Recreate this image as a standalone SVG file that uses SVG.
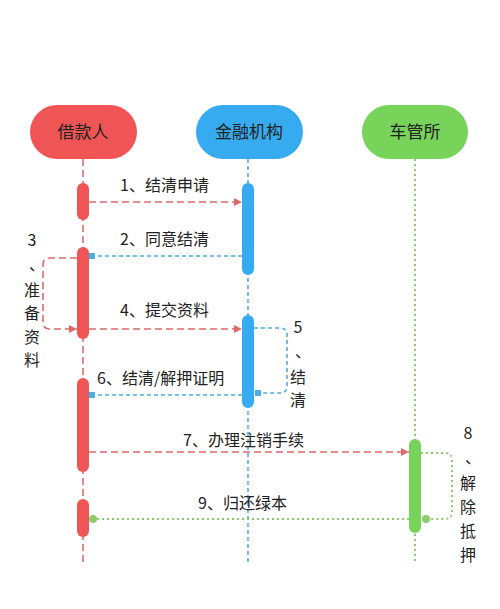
<svg xmlns="http://www.w3.org/2000/svg" width="500" height="609" viewBox="0 0 500 609">
<style>
text{font-family:"Noto Sans CJK SC","Noto Sans",sans-serif;fill:#222;}
.hd{font-size:17px;text-anchor:middle;}
.lb{font-size:16px;}
.vl{font-size:16px;text-anchor:middle;}
.red{stroke:#dc6a6a;stroke-width:1.6;fill:none;stroke-dasharray:7 4;}
.blue{stroke:#4eaee0;stroke-width:1.6;fill:none;stroke-dasharray:4 3;}
.green{stroke:#8ccc6a;stroke-width:2;fill:none;stroke-dasharray:2 3;}
.barR{fill:#f05555;}
.barB{fill:#36abf0;}
.barG{fill:#77d35a;}
</style>
<defs>
<marker id="arR" viewBox="0 0 10 10" refX="10" refY="5" markerWidth="8" markerHeight="8" markerUnits="userSpaceOnUse" orient="auto">
<path d="M0,0 L10,5 L0,10 z" fill="#dc6a6a"/>
</marker>
<marker id="sqB" viewBox="0 0 10 10" refX="5" refY="5" markerWidth="6" markerHeight="6" markerUnits="userSpaceOnUse" orient="auto">
<rect x="0" y="0" width="10" height="10" fill="#4eaee0"/>
</marker>
<marker id="dotG" viewBox="0 0 10 10" refX="5" refY="5" markerWidth="8" markerHeight="8" markerUnits="userSpaceOnUse" orient="auto">
<circle cx="5" cy="5" r="5" fill="#8ccc6a"/>
</marker>
</defs>
<rect width="500" height="609" fill="#ffffff"/>

<g id="lifelines">
<line class="red" x1="83" y1="159" x2="83" y2="562"/>
<line class="blue" x1="248" y1="159" x2="248" y2="562"/>
<line class="green" x1="415" y1="159" x2="415" y2="562"/>
</g>

<g id="borrower">
<rect x="30" y="105" width="107" height="54" rx="27" fill="#f05555"/>
<text class="hd" x="83" y="138">借款人</text>
<rect class="barR" x="77" y="183" width="12" height="37" rx="6"/>
<rect class="barR" x="77" y="247" width="12" height="92" rx="6"/>
<rect class="barR" x="77" y="378" width="12" height="94" rx="6"/>
<rect class="barR" x="77" y="499" width="12" height="38" rx="6"/>
</g>

<g id="bank">
<rect x="196" y="105" width="107" height="54" rx="27" fill="#36abf0"/>
<text class="hd" x="249" y="138">金融机构</text>
<rect class="barB" x="242" y="183" width="12" height="92" rx="6"/>
<rect class="barB" x="242" y="315" width="12" height="93" rx="6"/>
</g>

<g id="dmv">
<rect x="362" y="105" width="106" height="54" rx="27" fill="#77d35a"/>
<text class="hd" x="415" y="138">车管所</text>
<rect class="barG" x="409" y="439" width="12" height="94" rx="6"/>
</g>

<g id="connectors">
<line class="red" x1="89" y1="202" x2="242" y2="202" marker-end="url(#arR)"/>
<line class="blue" x1="242" y1="256" x2="92" y2="256" marker-end="url(#sqB)"/>
<path class="red" d="M77,258 H50 Q43,258 43,265 V322 Q43,329 50,329 H77" marker-end="url(#arR)"/>
<line class="red" x1="89" y1="329" x2="242" y2="329" marker-end="url(#arR)"/>
<path class="blue" d="M254,328 H280 Q287,328 287,335 V386 Q287,393 280,393 H258" marker-end="url(#sqB)"/>
<line class="blue" x1="242" y1="395" x2="92" y2="395" marker-end="url(#sqB)"/>
<line class="red" x1="89" y1="452" x2="409" y2="452" marker-end="url(#arR)"/>
<path class="green" d="M421,453 H445 Q452,453 452,460 V512 Q452,519 445,519 H426" marker-end="url(#dotG)"/>
<line class="green" x1="409" y1="519" x2="93" y2="519" marker-end="url(#dotG)"/>
</g>

<g id="labels">
<text class="lb" x="120" y="191">1、结清申请</text>
<text class="lb" x="120" y="245">2、同意结清</text>
<text class="vl" x="32" y="246">3</text>
<text class="vl" x="37" y="270">、</text>
<text class="vl" x="32" y="296">准</text>
<text class="vl" x="32" y="319">备</text>
<text class="vl" x="32" y="343">资</text>
<text class="vl" x="32" y="366">料</text>
<text class="lb" x="120" y="316">4、提交资料</text>
<text class="vl" x="298" y="333">5</text>
<text class="vl" x="303" y="357">、</text>
<text class="vl" x="298" y="383">结</text>
<text class="vl" x="298" y="406">清</text>
<text class="lb" x="97" y="384">6、结清/解押证明</text>
<text class="lb" x="183" y="446">7、办理注销手续</text>
<text class="vl" x="468" y="439">8</text>
<text class="vl" x="473" y="463">、</text>
<text class="vl" x="468" y="489">解</text>
<text class="vl" x="468" y="513">除</text>
<text class="vl" x="468" y="537">抵</text>
<text class="vl" x="468" y="561">押</text>
<text class="lb" x="198" y="509">9、归还绿本</text>
</g>
</svg>
